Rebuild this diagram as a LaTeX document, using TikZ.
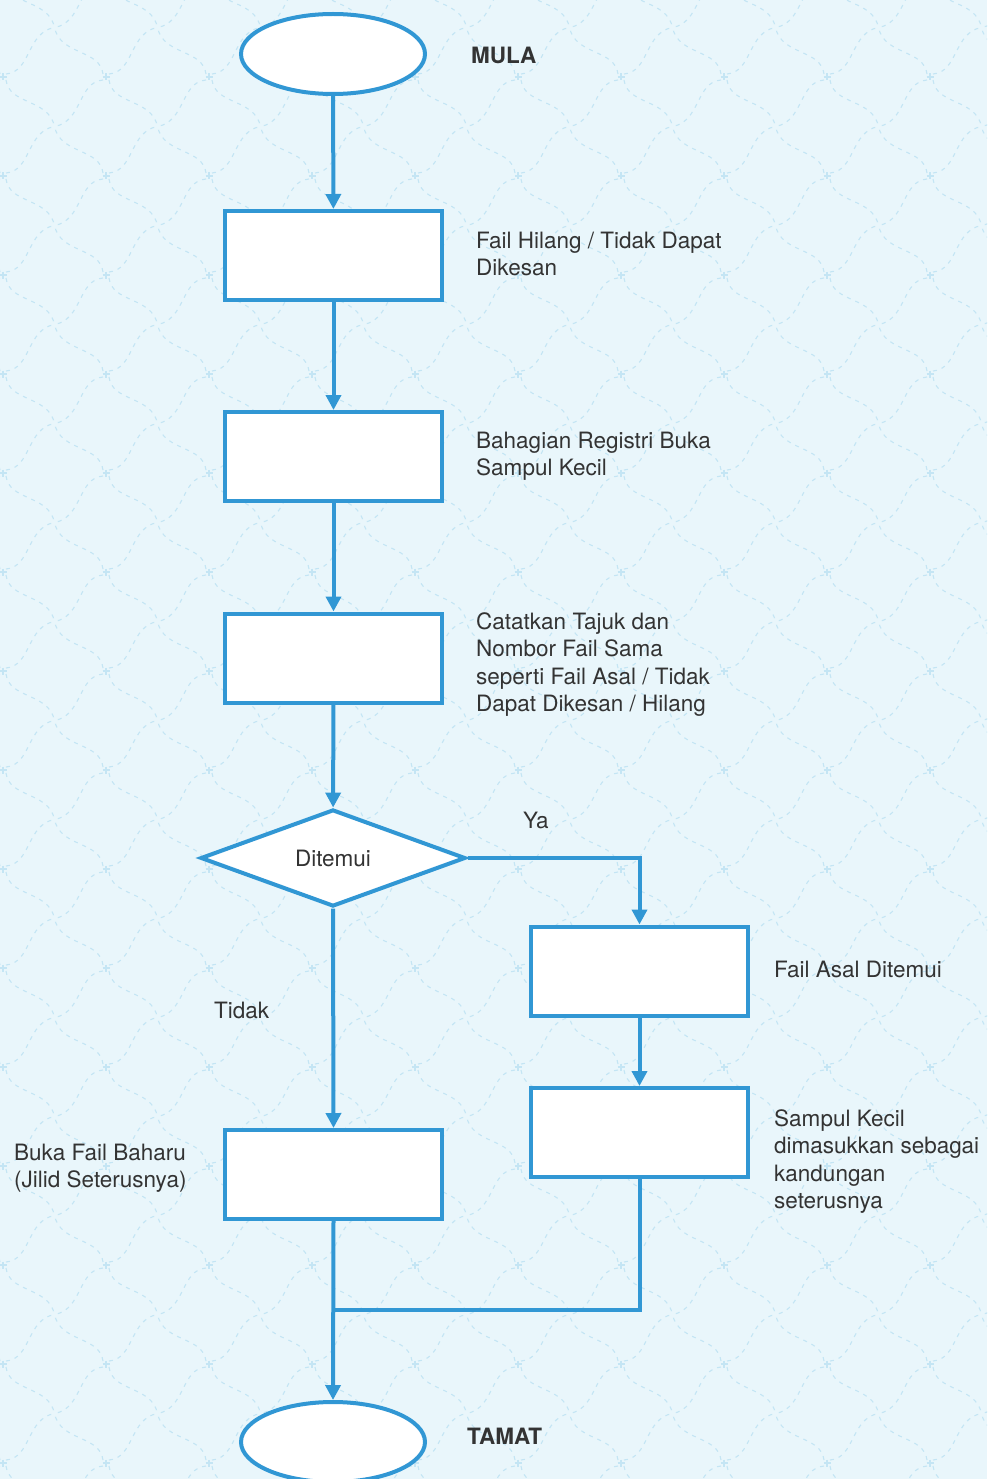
\documentclass[tikz,border=0pt]{standalone}
\usepackage{fontspec}
\setmainfont{TeX Gyre Heros}
\usetikzlibrary{shapes.geometric,arrows.meta,calc}
\definecolor{bgblue}{HTML}{E9F6FB}
\definecolor{motif}{HTML}{C4E5F4}
\definecolor{flow}{HTML}{3197D4}
\definecolor{ink}{HTML}{333333}
\begin{document}
\begin{tikzpicture}[x=1pt,y=-1pt,
  shapeline/.style={draw=flow,line width=4pt,fill=white},
  terminal/.style={shapeline,ellipse,minimum width=184pt,minimum height=80pt,inner sep=0pt},
  procbox/.style={shapeline,rectangle,minimum width=217pt,minimum height=89pt,inner sep=0pt},
  decision/.style={shapeline,diamond,aspect=2.73,minimum width=265pt,minimum height=97pt,inner sep=0pt,
    font=\fontsize{22.5}{27}\selectfont,text=ink},
  flowarrow/.style={draw=flow,line width=4pt,-{Triangle[length=15pt,width=15pt]}},
  flowline/.style={draw=flow,line width=4pt},
  note/.style={anchor=base west,align=left,inner sep=0pt,text=ink,
    font=\fontsize{22.5}{27.5}\selectfont},
  title/.style={anchor=base west,inner sep=0pt,text=ink,
    font=\fontsize{22.5}{27}\selectfont\bfseries},
  motifline/.style={draw=motif,line width=1.1pt,dash pattern=on 4pt off 5pt}
]
\useasboundingbox (0,0) rectangle (987,1479);
\clip (0,0) rectangle (987,1479);
\fill[bgblue] (0,0) rectangle (987,1479);

% faint background motif: a lattice of small crosses joined by wavy dashed strokes
\foreach \i in {-1,...,10}{
  \foreach \j in {-1,...,15}{
    \pgfmathsetmacro{\cx}{3+103*\i}
    \pgfmathsetmacro{\cy}{-22+99*\j}
    \draw[draw=motif,line width=1.1pt] (\cx-3.5,\cy) -- (\cx+3.5,\cy) (\cx,\cy-3.5) -- (\cx,\cy+3.5);
    \foreach \sx/\sy in {1/1,-1/1,1/-1,-1/-1}{
      \pgfmathsetmacro{\ax}{\cx+17.2*\sx-11*\sy}
      \pgfmathsetmacro{\ay}{\cy+16.5*\sy+11.6*\sx}
      \pgfmathsetmacro{\bx}{\cx+34.5*\sx+11*\sy}
      \pgfmathsetmacro{\by}{\cy+33*\sy-11.6*\sx}
      \pgfmathsetmacro{\ex}{\cx+51.5*\sx}
      \pgfmathsetmacro{\ey}{\cy+49.5*\sy}
      \draw[motifline] (\cx+3*\sx,\cy+3*\sy) .. controls (\ax,\ay) and (\bx,\by) .. (\ex,\ey);
    }
  }
}

% flowchart shapes
\node[terminal] (start) at (333,54) {};
\node[procbox] (lost) at (333.5,255.5) {};
\node[procbox] (registry) at (333.5,456.5) {};
\node[procbox] (record) at (333.5,658) {};
\node[decision] (found) at (333,858) {Ditemui};
\node[procbox] (origin) at (639.5,971) {};
\node[procbox] (insert) at (639.5,1132.5) {};
\node[procbox] (newfile) at (333.5,1174.5) {};
\node[terminal] (finish) at (333,1442) {};
\coordinate (merge) at (333,1310);

% connectors
\draw[flowarrow] (start) -- (lost);
\draw[flowarrow] (lost) -- (registry);
\draw[flowarrow] (registry) -- (record);
\draw[flowarrow] (record) -- (found);
\draw[flowarrow] (found.east) -| (origin.north);
\draw[flowarrow] (origin) -- (insert);
\draw[flowarrow] (found.south) -- (newfile.north);
\draw[flowline] (insert.south) |- (merge);
\draw[flowarrow] (newfile.south) -- (finish.north);

% labels (multi-line notes are placed by the baseline of their last line)
\node[title] (tstart) at (471,64) {MULA};
\node[title] (tfinish) at (467,1444) {TAMAT};
\node[note] (nlost) at (476,275.5) {Fail Hilang / Tidak Dapat\\Dikesan};
\node[note] (nregistry) at (476,475.5) {Bahagian Registri Buka\\Sampul Kecil};
\node[note] (nrecord) at (476,711.5) {Catatkan Tajuk dan\\Nombor Fail Sama\\seperti Fail Asal / Tidak\\Dapat Dikesan / Hilang};
\node[note] (nyes) at (523,828) {Ya};
\node[note] (nno) at (214,1018) {Tidak};
\node[note] (norigin) at (774,977) {Fail Asal Ditemui};
\node[note] (ninsert) at (774,1208.5) {Sampul Kecil\\dimasukkan sebagai\\kandungan\\seterusnya};
\node[note] (nnewfile) at (14,1187.5) {Buka Fail Baharu\\(Jilid Seterusnya)};
\end{tikzpicture}
\end{document}
